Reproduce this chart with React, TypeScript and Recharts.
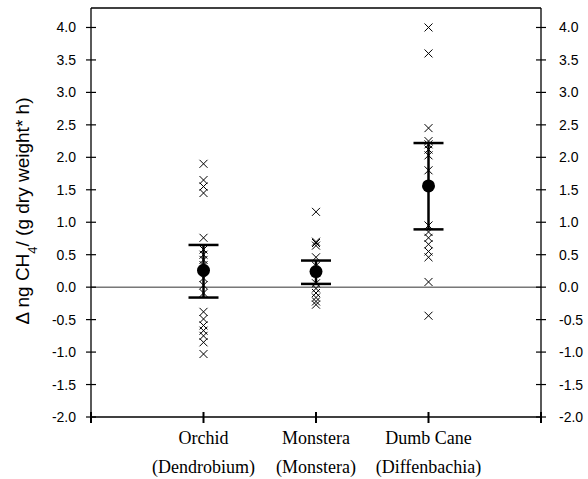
import { ComposedChart, Scatter, XAxis, YAxis, ErrorBar, ReferenceLine } from "recharts";

const categories = ["Orchid", "Monstera", "Dumb Cane"];
const latinNames = ["(Dendrobium)", "(Monstera)", "(Diffenbachia)"];

const orchidValues = [1.9, 1.65, 1.55, 1.45, 0.76, 0.58, 0.5, 0.42, 0.34, 0.14, 0.03, -0.09, -0.38, -0.49, -0.59, -0.67, -0.75, -0.85, -1.03];
const monsteraValues = [1.16, 0.7, 0.68, 0.64, 0.46, 0.33, 0.06, -0.02, -0.09, -0.16, -0.22, -0.27];
const dumbCaneValues = [4.0, 3.6, 2.45, 2.25, 2.2, 2.12, 2.03, 1.8, 0.95, 0.85, 0.76, 0.66, 0.55, 0.46, 0.08, -0.44];

const means = [0.26, 0.24, 1.56];
const lowerBounds = [-0.16, 0.05, 0.89];
const upperBounds = [0.65, 0.41, 2.22];

const yTicks = [-2, -1.5, -1, -0.5, 0, 0.5, 1, 1.5, 2, 2.5, 3, 3.5, 4];
const xTicks = [0, 1, 2, 3, 4];

const rawPoints = [orchidValues, monsteraValues, dumbCaneValues].flatMap((vals, i) =>
  vals.map((v) => ({ x: i + 1, y: v }))
);
const meanPoints = means.map((m, i) => ({
  x: i + 1,
  y: m,
  err: [m - lowerBounds[i], upperBounds[i] - m],
}));

const SANS = "'Liberation Sans', Arial, sans-serif";
const SERIF = "'Liberation Serif', 'Times New Roman', serif";

function CrossMark(props: any) {
  const { cx, cy } = props;
  const s = 4;
  return (
    <g stroke="#000" strokeWidth={1}>
      <line x1={cx - s} y1={cy - s} x2={cx + s} y2={cy + s} />
      <line x1={cx - s} y1={cy + s} x2={cx + s} y2={cy - s} />
    </g>
  );
}

function MeanDot(props: any) {
  return <circle cx={props.cx} cy={props.cy} r={6.5} fill="#000" />;
}

function LeftTick(props: any) {
  const { x, y, payload } = props;
  return (
    <g>
      <line x1={x - 5} x2={x + 5} y1={y} y2={y} stroke="#000" strokeWidth={1.2} />
      <text x={x - 15} y={y} dy={5} textAnchor="end" fontFamily={SANS} fontSize={14} fill="#000">
        {payload.value.toFixed(1)}
      </text>
    </g>
  );
}

function RightTick(props: any) {
  const { x, y, payload } = props;
  return (
    <g>
      <line x1={x - 5} x2={x + 5} y1={y} y2={y} stroke="#000" strokeWidth={1.2} />
      <text x={x + 18} y={y} dy={5} textAnchor="start" fontFamily={SANS} fontSize={14} fill="#000">
        {payload.value.toFixed(1)}
      </text>
    </g>
  );
}

function BottomTick(props: any) {
  const { x, y, payload } = props;
  const i = payload.value - 1;
  const hasLabel = i >= 0 && i < categories.length;
  return (
    <g>
      <line x1={x} x2={x} y1={y - 5} y2={y + 6} stroke="#000" strokeWidth={2} />
      {hasLabel && (
        <text textAnchor="middle" fontFamily={SERIF} fontSize={18} fill="#000">
          <tspan x={x} y={y + 27}>{categories[i]}</tspan>
          <tspan x={x} y={y + 56}>{latinNames[i]}</tspan>
        </text>
      )}
    </g>
  );
}

function YLabel() {
  return (
    <text
      transform="translate(29, 211) rotate(-90)"
      textAnchor="middle"
      fontFamily={SANS}
      fontSize={19}
      fill="#000"
    >
      Δ ng CH<tspan baselineShift="sub" fontSize={13}>4</tspan>/ (g dry weight* h)
    </text>
  );
}

export default function App() {
  return (
    <div style={{ position: "absolute", left: 0, top: 0, background: "#fff" }}>
      <ComposedChart width={588} height={479} margin={{ top: 8, right: 0, bottom: 0, left: 0 }}>
        <XAxis
          type="number"
          dataKey="x"
          domain={[0, 4]}
          ticks={xTicks}
          tickSize={0}
          tickMargin={0}
          tickLine={false}
          height={62}
          stroke="#000"
          strokeWidth={1.3}
          tick={<BottomTick />}
          interval={0}
        />
        <YAxis
          yAxisId="left"
          type="number"
          dataKey="y"
          domain={[-2, 4.3]}
          ticks={yTicks}
          width={91}
          tickSize={0}
          tickMargin={0}
          tickLine={false}
          stroke="#000"
          strokeWidth={1.3}
          tick={<LeftTick />}
          interval={0}
          label={<YLabel />}
        />
        <YAxis
          yAxisId="right"
          orientation="right"
          type="number"
          domain={[-2, 4.3]}
          ticks={yTicks}
          width={47}
          tickSize={0}
          tickMargin={0}
          tickLine={false}
          stroke="#000"
          strokeWidth={1.3}
          tick={<RightTick />}
          interval={0}
        />
        <ReferenceLine yAxisId="left" y={4.3} stroke="#000" strokeWidth={1.3} />
        <ReferenceLine yAxisId="left" y={0} stroke="#333" strokeWidth={1} />
        <Scatter yAxisId="left" data={rawPoints} dataKey="y" shape={<CrossMark />} isAnimationActive={false} />
        <Scatter yAxisId="right" data={rawPoints} dataKey="y" shape={() => null} isAnimationActive={false} />
        <Scatter yAxisId="left" data={meanPoints} dataKey="y" shape={<MeanDot />} isAnimationActive={false}>
          <ErrorBar dataKey="err" direction="y" width={15} strokeWidth={2.5} stroke="#000" isAnimationActive={false} />
        </Scatter>
      </ComposedChart>
    </div>
  );
}
